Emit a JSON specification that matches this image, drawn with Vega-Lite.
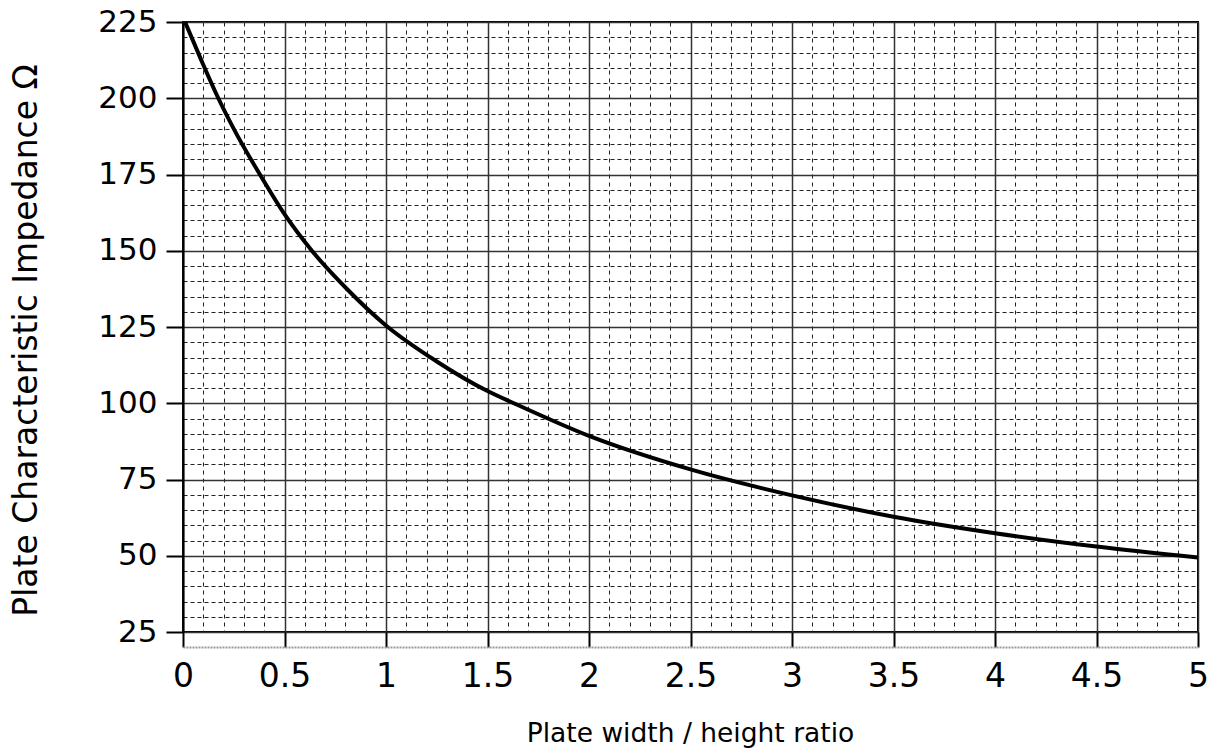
{
  "$schema": "https://vega.github.io/schema/vega-lite/v6.json",
  "width": 1015,
  "height": 610,
  "autosize": {"type": "none"},
  "padding": {"left": 183, "top": 22, "right": 19, "bottom": 121},
  "background": "white",
  "config": {
    "view": {"stroke": "black", "strokeWidth": 2},
    "font": "DejaVu Sans",
    "axis": {"labelFont": "DejaVu Sans", "titleFont": "DejaVu Sans", "labelColor": "black", "titleColor": "black", "titleFontWeight": "normal"}
  },
  "data": {
    "values": [
      {"x": 0.01, "z": 225},
      {"x": 0.09, "z": 212.5},
      {"x": 0.174, "z": 200},
      {"x": 0.27, "z": 187.5},
      {"x": 0.379, "z": 175},
      {"x": 0.5, "z": 162},
      {"x": 0.635, "z": 150},
      {"x": 0.81, "z": 137.3},
      {"x": 1.0, "z": 125.5},
      {"x": 1.25, "z": 113.7},
      {"x": 1.5, "z": 104},
      {"x": 1.63, "z": 100},
      {"x": 2.0, "z": 89.3},
      {"x": 2.5, "z": 78.3},
      {"x": 3.0, "z": 69.8},
      {"x": 3.5, "z": 62.8},
      {"x": 4.0, "z": 57.4},
      {"x": 4.5, "z": 53},
      {"x": 5.0, "z": 49.4}
    ]
  },
  "layer": [
    {
      "mark": {"type": "line", "strokeOpacity": 0},
      "encoding": {
        "x": {"field": "x", "type": "quantitative", "scale": {"domain": [0, 5], "nice": false},
          "axis": {"orient": "bottom", "values": [0.1,0.2,0.3,0.4,0.6,0.7,0.8,0.9,1.1,1.2,1.3,1.4,1.6,1.7,1.8,1.9,2.1,2.2,2.3,2.4,2.6,2.7,2.8,2.9,3.1,3.2,3.3,3.4,3.6,3.7,3.8,3.9,4.1,4.2,4.3,4.4,4.6,4.7,4.8,4.9],
            "grid": true, "gridColor": "#222", "gridWidth": 1, "gridDash": [4, 4], "gridOpacity": 1,
            "labels": false, "ticks": false, "domain": false, "title": null}},
        "y": {"field": "z", "type": "quantitative", "scale": {"domain": [25, 225], "nice": false, "zero": false},
          "axis": {"orient": "left", "values": [30,35,40,45,55,60,65,70,80,85,90,95,105,110,115,120,130,135,140,145,155,160,165,170,180,185,190,195,205,210,215,220],
            "grid": true, "gridColor": "#222", "gridWidth": 1, "gridDash": [4, 3], "gridOpacity": 1,
            "labels": false, "ticks": false, "domain": false, "title": null}}
      }
    },
    {
      "mark": {"type": "line", "color": "black", "strokeWidth": 4, "clip": true, "interpolate": "monotone"},
      "encoding": {
        "x": {"field": "x", "type": "quantitative", "scale": {"domain": [0, 5], "nice": false},
          "axis": {"orient": "bottom", "values": [0, 0.5, 1, 1.5, 2, 2.5, 3, 3.5, 4, 4.5, 5], "format": "~g",
            "grid": true, "gridColor": "#333", "gridWidth": 1.5, "gridOpacity": 1,
            "offset": 15, "tickSize": -15, "tickColor": "black", "tickWidth": 2,
            "domainColor": "#999", "domainDash": [2, 1], "domainWidth": 2,
            "labelFontSize": 33, "labelPadding": 28, "labelFlush": false,
            "title": "Plate width / height ratio", "titleFontSize": 26.5, "titleX": 507, "titleY": 86, "titleBaseline": "middle", "titleAlign": "center"}},
        "y": {"field": "z", "type": "quantitative", "scale": {"domain": [25, 225], "nice": false, "zero": false},
          "axis": {"orient": "left", "values": [25, 50, 75, 100, 125, 150, 175, 200, 225],
            "grid": true, "gridColor": "#333", "gridWidth": 1.5, "gridOpacity": 1,
            "tickSize": 17, "tickColor": "black", "tickWidth": 2, "domainColor": "black", "domainWidth": 2,
            "labelFontSize": 31, "labelPadding": 9, "labelFlush": false,
            "title": "Plate Characteristic Impedance Ω", "titleFontSize": 33, "titleAngle": -90, "titleX": -157, "titleY": 318, "titleBaseline": "middle", "titleAlign": "center"}}
      }
    }
  ],
  "resolve": {"axis": {"x": "independent", "y": "independent"}}
}
